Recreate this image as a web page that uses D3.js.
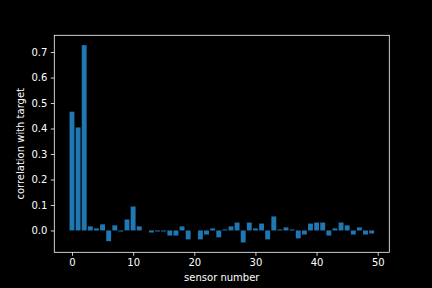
<!DOCTYPE html>
<html>
<head>
<meta charset="utf-8">
<script src="https://cdn.jsdelivr.net/npm/d3@7"></script>
<style>
  body { margin: 0; background: #000; }
  svg { display: block; }
</style>
</head>
<body>
<div id="chart"></div>
<script>
// Correlation of each sensor with the target
var sensors = d3.range(0, 50);
var correlations = [
  0.466, 0.404, 0.727, 0.016, 0.008, 0.024, -0.042, 0.020, -0.004, 0.043,
  0.094, 0.016, 0.0, -0.008, -0.004, -0.004, -0.020, -0.020, 0.016, -0.035,
  0.0, -0.035, -0.016, 0.008, -0.027, 0.004, 0.016, 0.031, -0.047, 0.031,
  0.008, 0.027, -0.035, 0.055, 0.004, 0.012, 0.004, -0.031, -0.016, 0.027,
  0.031, 0.031, -0.020, 0.008, 0.031, 0.020, -0.016, 0.012, -0.016, -0.012
];
var xTicks = [0, 10, 20, 30, 40, 50];
var yTicks = [0.0, 0.1, 0.2, 0.3, 0.4, 0.5, 0.6, 0.7];

var width = 432, height = 288;
// axes box (window.top is reserved, so use plotTop etc.)
var plotLeft = 54.3, plotRight = 389.3, plotTop = 35.3, plotBottom = 252.3;

var svg = d3.select("#chart").append("svg")
  .attr("width", width)
  .attr("height", height)
  .style("background", "#000")
  .style("font-family", "DejaVu Sans, sans-serif");

// matplotlib-like auto limits with 5% margins
var barW = 0.8;
var xMin = -barW / 2, xMax = sensors.length - 1 + barW / 2;
var xPad = (xMax - xMin) * 0.05;
var x = d3.scaleLinear()
  .domain([xMin - xPad, xMax + xPad])
  .range([plotLeft, plotRight]);

var yMin = d3.min(correlations), yMax = d3.max(correlations);
var yPad = (yMax - yMin) * 0.05;
var y = d3.scaleLinear()
  .domain([yMin - yPad, yMax + yPad])
  .range([plotBottom, plotTop]);

svg.append("g")
  .selectAll("rect")
  .data(sensors)
  .enter().append("rect")
  .attr("x", function(d) { return x(d - barW / 2); })
  .attr("width", function(d) { return x(barW) - x(0); })
  .attr("y", function(d) { return y(Math.max(0, correlations[d])); })
  .attr("height", function(d) { return Math.abs(y(correlations[d]) - y(0)); })
  .attr("fill", "#1f77b4");

// axes
var xAxis = svg.append("g")
  .attr("transform", "translate(0," + plotBottom + ")")
  .call(d3.axisBottom(x).tickValues(xTicks).tickSize(3.5).tickPadding(3.5));

var yAxis = svg.append("g")
  .attr("transform", "translate(" + plotLeft + ",0)")
  .call(d3.axisLeft(y).tickValues(yTicks).tickFormat(d3.format(".1f")).tickSize(3.5).tickPadding(3.5));

[xAxis, yAxis].forEach(function(g) {
  g.select(".domain").remove();
  g.selectAll("line").attr("stroke", "#fff").attr("stroke-width", 0.8);
  g.selectAll("text").attr("fill", "#fff").style("font-size", "10px")
    .style("font-family", "DejaVu Sans, sans-serif");
});

// frame
svg.append("rect")
  .attr("x", plotLeft).attr("y", plotTop)
  .attr("width", plotRight - plotLeft).attr("height", plotBottom - plotTop)
  .attr("fill", "none")
  .attr("stroke", "#fff")
  .attr("stroke-width", 0.8);

svg.append("text")
  .attr("x", (plotLeft + plotRight) / 2).attr("y", 281)
  .attr("text-anchor", "middle")
  .attr("fill", "#fff")
  .style("font-size", "10px")
  .text("sensor number");

svg.append("text")
  .attr("transform", "translate(24," + (plotTop + plotBottom) / 2 + ") rotate(-90)")
  .attr("text-anchor", "middle")
  .attr("fill", "#fff")
  .style("font-size", "10px")
  .text("correlation with target");
</script>
</body>
</html>
